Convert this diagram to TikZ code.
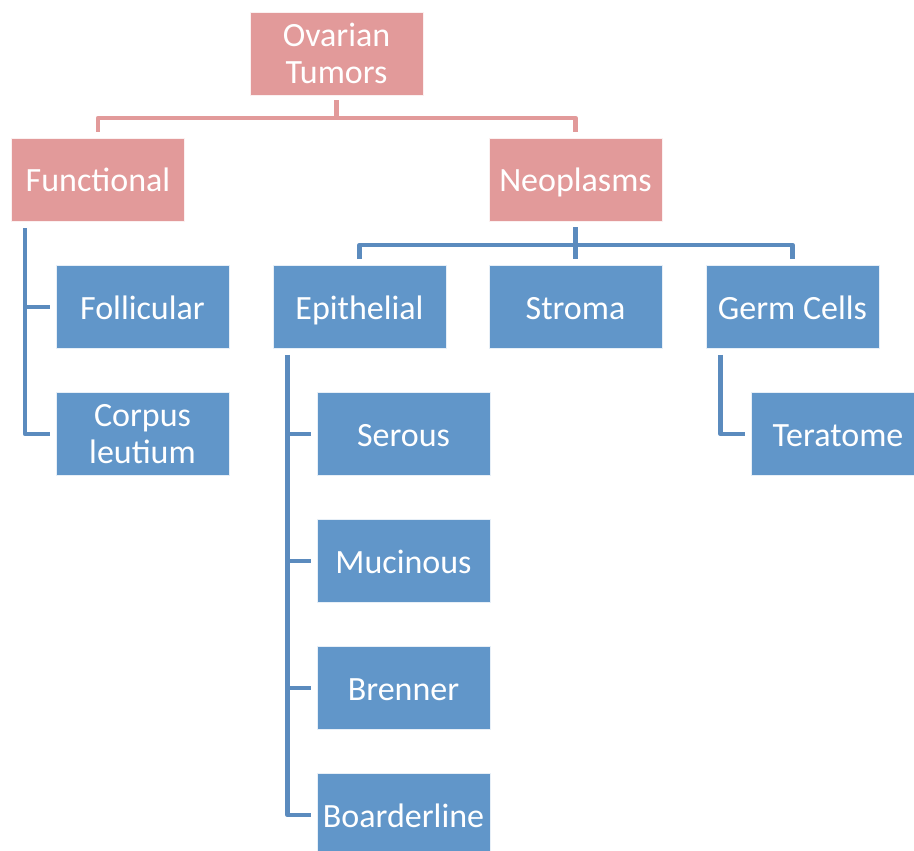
\documentclass[tikz,border=0pt]{standalone}
\usepackage{fontspec}
\setmainfont{Carlito}
\usepackage{tikz}
\usetikzlibrary{positioning}
\definecolor{cPink}{HTML}{E29A9A}
\definecolor{cBlue}{HTML}{6196C9}
\definecolor{cLine}{HTML}{5B8BBE}
\tikzset{
  box/.style={draw=white!85!cBlue, line width=0.8pt, fill=cBlue, text=white,
              minimum width=173pt, minimum height=83pt, inner sep=2pt,
              align=center, font=\fontsize{34}{37}\selectfont},
  one/.style={text height=24pt, text depth=0pt},
  boxP/.style={box, fill=cPink, draw=white!85!cPink},
  ln/.style={cLine, line width=4.5pt, line join=round},
  lnP/.style={ln, cPink}
}
\begin{document}
\begin{tikzpicture}[x=1pt,y=-1pt]
\useasboundingbox (0,0) rectangle (914,851);
\clip (0,0) rectangle (914,851);
% top levels
\node[boxP] (ovar) at (336.5,53.5) {Ovarian\\Tumors};
\node[boxP, one] (func) at (98,179.5) {Functional};
\node[boxP, one] (neo) at (575.5,179.5) {Neoplasms};
% functional group
\node[box, one] (foll) at (142.5,307) {Follicular};
\node[box] (corp) at (142.5,434) {Corpus\\leutium};
% neoplasm group
\node[box, one] (epi) at (359.5,307) {Epithelial};
\node[box, one] (strom) at (575.5,307) {Stroma};
\node[box, one] (germ) at (792.5,307) {Germ Cells};
\node[box, one] (ser) at (403.5,434) {Serous};
\node[box, one] (muc) at (403.5,561) {Mucinous};
\node[box, one] (bren) at (403.5,688) {Brenner};
\node[box, one] (boar) at (403.5,815) {Boarderline};
\node[box, one] (tera) at (838,434) {Teratome};
% connectors
\coordinate (pj) at (336.5,118);
\coordinate (bj) at (575.5,245);
\draw[lnP] ([yshift=-5pt]ovar.south) -- (pj);
\draw[lnP] ([yshift=6pt]func.north) |- (pj) -| ([yshift=6pt]neo.north);
\draw[ln] ([yshift=-6pt]neo.south) -- ([yshift=6pt]strom.north);
\draw[ln] ([yshift=6pt]epi.north) |- (bj) -| ([yshift=6pt]germ.north);
\draw[ln] ([xshift=14pt,yshift=-7pt]func.south west) |- ([xshift=-6pt]corp.west);
\draw[ln] ([xshift=14pt]func.south west |- foll.west) -- ([xshift=-6pt]foll.west);
\draw[ln] ([xshift=15pt,yshift=-6pt]epi.south west) |- ([xshift=-6pt]boar.west);
\foreach \n in {ser,muc,bren}
  \draw[ln] ([xshift=15pt]epi.south west |- \n.west) -- ([xshift=-6pt]\n.west);
\draw[ln] ([xshift=15pt,yshift=-6pt]germ.south west) |- ([xshift=-6pt]tera.west);
\end{tikzpicture}
\end{document}
